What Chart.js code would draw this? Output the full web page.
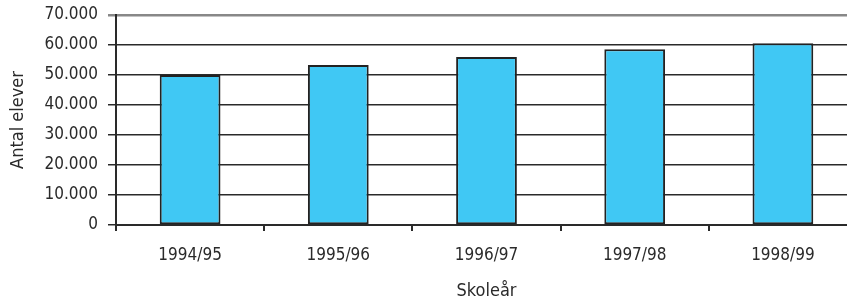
<!DOCTYPE html>
<html>
<head>
<meta charset="utf-8">
<script src="https://cdn.jsdelivr.net/npm/chart.js@4"></script>
<style>
  html, body { margin: 0; padding: 0; background: #fff; overflow: hidden; }
  #wrap { width: 857px; height: 306px; }
</style>
</head>
<body>
<div id="wrap"><canvas id="elevChart"></canvas></div>
<script>
// School years and number of pupils
const years = ["1994/95", "1995/96", "1996/97", "1997/98", "1998/99"];
const pupils = [50000, 53300, 56000, 58600, 60600];
const yTicks = [0, 10000, 20000, 30000, 40000, 50000, 60000, 70000];

const family = "'Liberation Sans Narrow', 'DejaVu Sans Condensed', sans-serif";
const font = { family: family, size: 17 };
const titleFont = { family: family, size: 18 };
const ink = "#2a2a2a";

const ctx = document.getElementById("elevChart").getContext("2d");
const elevChart = new Chart(ctx, {
  type: "bar",
  data: {
    labels: years,
    datasets: [
      {
        label: "Antal elever",
        data: pupils,
        backgroundColor: "#40c8f4",
        borderColor: "#222",
        borderWidth: 2,
        borderSkipped: false,
        categoryPercentage: 0.41,
        barPercentage: 1,
      },
    ],
  },
  options: {
    responsive: true,
    maintainAspectRatio: false,
    animation: false,
    layout: { padding: { top: 15, right: 0, left: 0, bottom: 0 } },
    plugins: { legend: { display: false }, tooltip: { enabled: false } },
    scales: {
      x: {
        offset: true,
        border: { color: ink, width: 2 },
        grid: { offset: true, drawOnChartArea: false, drawTicks: true, tickLength: 6, color: ink, lineWidth: 2 },
        ticks: { font: font, color: ink, padding: 14 },
        title: { display: true, text: "Skoleår", font: titleFont, color: ink, padding: { top: 8 } },
        afterFit(scale) { scale.height = 81; },
      },
      y: {
        min: 0,
        max: 70000,
        afterBuildTicks(scale) { scale.ticks = yTicks.map((v) => ({ value: v })); },
        border: { color: ink, width: 2 },
        grid: {
          drawTicks: true,
          tickLength: 8,
          color: (c) => (c.tick && c.tick.value === 70000 ? "#888" : ink),
          lineWidth: (c) => (c.tick && c.tick.value === 70000 ? 2.5 : 1.5),
        },
        ticks: {
          font: font,
          color: ink,
          padding: 10,
          callback: (v) => (v === 0 ? "0" : v.toLocaleString("de-DE")),
        },
        title: { display: true, text: "Antal elever", font: titleFont, color: ink, padding: { top: 8, bottom: 6 } },
        afterFit(scale) {
          scale.width = 116;
          scale.paddingTop = 0;
          scale.paddingBottom = 0;
        },
      },
    },
  },
});
</script>
</body>
</html>
